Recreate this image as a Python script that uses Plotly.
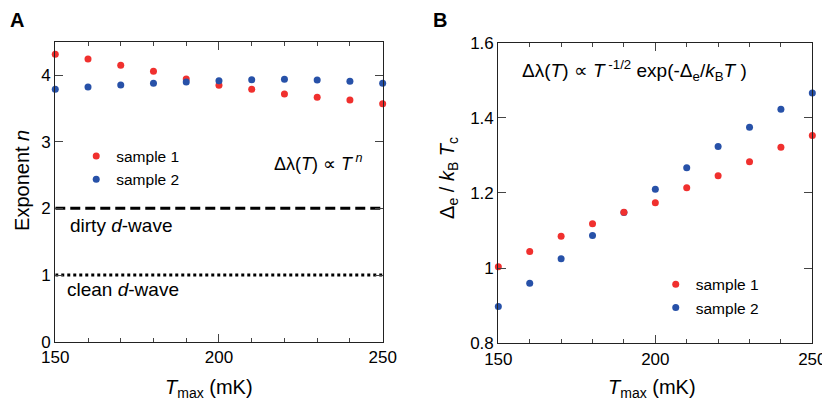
import plotly.graph_objects as go

# data
tmax = [150, 160, 170, 180, 190, 200, 210, 220, 230, 240, 250]
n_s1 = [4.31, 4.24, 4.145, 4.055, 3.94, 3.845, 3.785, 3.715, 3.665, 3.625, 3.57]
n_s2 = [3.785, 3.82, 3.85, 3.875, 3.895, 3.915, 3.93, 3.935, 3.925, 3.905, 3.875]
gap_s1 = [1.004, 1.044, 1.085, 1.118, 1.149, 1.174, 1.214, 1.246, 1.283, 1.322, 1.353]
gap_s2 = [0.898, 0.96, 1.025, 1.087, 1.148, 1.21, 1.267, 1.324, 1.375, 1.423, 1.466]
dirty_n = 2
clean_n = 1

red = "#f0302e"
blue = "#2751a8"
font = "Arial, Liberation Sans, sans-serif"

fig = go.Figure()

# panel A
fig.add_trace(go.Scatter(x=tmax, y=n_s1, mode="markers", name="sample 1",
                         marker=dict(color=red, size=7), cliponaxis=False,
                         xaxis="x", yaxis="y", legend="legend"))
fig.add_trace(go.Scatter(x=tmax, y=n_s2, mode="markers", name="sample 2",
                         marker=dict(color=blue, size=7), cliponaxis=False,
                         xaxis="x", yaxis="y", legend="legend"))
fig.add_trace(go.Scatter(x=[tmax[0], tmax[-1]], y=[dirty_n, dirty_n], mode="lines",
                         line=dict(color="black", width=3, dash="10px,5px"),
                         showlegend=False, xaxis="x", yaxis="y"))
fig.add_trace(go.Scatter(x=[tmax[0], tmax[-1]], y=[clean_n, clean_n], mode="lines",
                         line=dict(color="black", width=3, dash="3px,3px"),
                         showlegend=False, xaxis="x", yaxis="y"))

# panel B (sample 1 drawn on top)
fig.add_trace(go.Scatter(x=tmax, y=gap_s2, mode="markers", name="sample 2",
                         marker=dict(color=blue, size=7), cliponaxis=False,
                         xaxis="x2", yaxis="y2", legend="legend2", legendrank=2))
fig.add_trace(go.Scatter(x=tmax, y=gap_s1, mode="markers", name="sample 1",
                         marker=dict(color=red, size=7), cliponaxis=False,
                         xaxis="x2", yaxis="y2", legend="legend2", legendrank=1))

axis_common = dict(showline=True, linecolor="#222", linewidth=1.3, mirror="ticks",
                   ticks="inside", ticklen=8, tickcolor="#444", tickwidth=1.3,
                   showgrid=False, zeroline=False, automargin=False,
                   tickfont=dict(size=17, color="black"))

xminor = dict(dtick=10, ticks="inside", ticklen=4, tickcolor="#444", tickwidth=1.2, showgrid=False)

# the page adds an 8px body margin, so the figure is 822x396
fig.update_layout(
    width=822, height=396,
    margin=dict(l=0, r=0, t=0, b=0, autoexpand=False),
    paper_bgcolor="white", plot_bgcolor="white",
    font=dict(family=font, size=17, color="black"),
    xaxis=dict(domain=[0.0575, 0.4558], range=[150, 250], tickvals=[150, 200, 250],
               minor=xminor, anchor="y", **axis_common),
    yaxis=dict(domain=[0.1573, 0.9149], range=[0, 4.5], tickvals=[0, 1, 2, 3, 4],
               anchor="x", **axis_common),
    xaxis2=dict(domain=[0.5965, 0.9785], range=[150, 250], tickvals=[150, 200, 250],
                minor=xminor, anchor="y2", **axis_common),
    yaxis2=dict(domain=[0.1533, 0.9124], range=[0.8, 1.6],
                tickvals=[0.8, 1.0, 1.2, 1.4, 1.6], ticktext=["0.8", "1", "1.2", "1.4", "1.6"],
                anchor="x2", **axis_common),
    legend=dict(x=0.083, y=0.668, xanchor="left", yanchor="top", bgcolor="rgba(0,0,0,0)",
                font=dict(size=15.5), itemwidth=30, tracegroupgap=0),
    legend2=dict(x=0.788, y=0.344, xanchor="left", yanchor="top", bgcolor="rgba(0,0,0,0)",
                 font=dict(size=15.5), itemwidth=30, tracegroupgap=0),
    showlegend=True,
)

ann = [
    dict(text="<b>A</b>", x=0.0, y=0.97, size=20, xa="left"),
    dict(text="<b>B</b>", x=0.5142, y=0.97, size=20, xa="left"),
    dict(text="Exponent <i>n</i>", x=0.017, y=0.5657, size=20, angle=-90),
    dict(text="Δ<sub>e</sub> / <i>k</i><sub>B</sub> <i>T</i><sub>c</sub>", x=0.5365, y=0.571, size=20, angle=-90),
    dict(text="<i>T</i><sub>max</sub> (mK)", x=0.2445, y=0.0379, size=20),
    dict(text="<i>T</i><sub>max</sub> (mK)", x=0.7835, y=0.0379, size=20),
    dict(text="dirty <i>d</i>-wave", x=0.1375, y=0.452, size=19),
    dict(text="clean <i>d</i>-wave", x=0.1405, y=0.288, size=19),
    dict(text="Δλ(<i>T</i>) ∝ <i>T</i><sup> <i>n</i></sup>", x=0.378, y=0.611, size=18),
    dict(text="Δλ(<i>T</i>) ∝ <i>T</i><sup> -1/2</sup> exp(-Δ<sub>e</sub>/<i>k</i><sub>B</sub><i>T</i> )",
         x=0.7616, y=0.841, size=19),
]
fig.update_layout(annotations=[
    dict(text=a["text"], x=a["x"], y=a["y"], xref="paper", yref="paper", showarrow=False,
         xanchor=a.get("xa", "center"), yanchor="middle", textangle=a.get("angle", 0),
         font=dict(family=font, size=a["size"], color="black"))
    for a in ann
])

fig.write_html("out.html")
